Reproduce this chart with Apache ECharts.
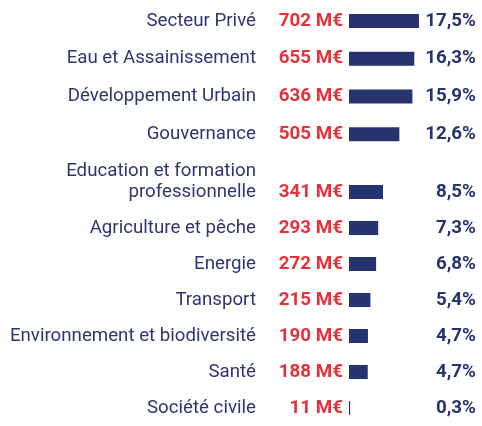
<!DOCTYPE html>
<html><head><meta charset="utf-8">
<script src="https://cdn.jsdelivr.net/npm/echarts@6/dist/echarts.min.js"></script>
<style>html,body{margin:0;padding:0;background:#fff}#c{width:482px;height:426px}</style>
</head><body><div id="c"></div>
<script>
const categories = ['Secteur Privé','Eau et Assainissement','Développement Urbain','Gouvernance','Education et formation\nprofessionnelle','Agriculture et pêche','Energie','Transport','Environnement et biodiversité','Santé','Société civile'];
const values = [702,655,636,505,341,293,272,215,190,188,11];
const percents = ['17,5%','16,3%','15,9%','12,6%','8,5%','7,3%','6,8%','5,4%','4,7%','4,7%','0,3%'];

const NAVY = '#27336F', RED = '#E8303A', TEXT = '#2E3670';
const FONT = 'Roboto';
const split = 4;
const groups = [
  {cats: categories.slice(0, split), vals: values.slice(0, split), pct: percents.slice(0, split), top: 2, height: 151},
  {cats: categories.slice(split), vals: values.slice(split), pct: percents.slice(split), top: 174, height: 260}
];
const grid = [], xAxis = [], yAxis = [], series = [];
groups.forEach((g, i) => {
  grid.push({left: 349, right: 6, top: g.top, height: g.height, containLabel: false});
  xAxis.push({type: 'value', gridIndex: i, min: 0, max: 1274, show: false});
  yAxis.push({
    type: 'category', gridIndex: i, inverse: true,
    data: g.cats,
    axisLine: {show: false}, axisTick: {show: false}, splitLine: {show: false},
    axisLabel: {
      interval: 0, margin: 93, align: 'right',
      formatter: v => v.indexOf('\n') >= 0 ? v.split('\n').map(s => '{m|' + s + '}').join('\n') + '\n{m| }' : v,
      color: TEXT, fontFamily: FONT, fontSize: 18.7,
      rich: {m: {color: TEXT, fontFamily: FONT, fontSize: 18.7, lineHeight: 21}}
    }
  });
  yAxis.push({
    type: 'category', gridIndex: i, inverse: true, position: 'right',
    data: g.pct,
    axisLine: {show: false}, axisTick: {show: false}, splitLine: {show: false},
    axisLabel: {interval: 0, margin: 0, align: 'right', color: NAVY, fontFamily: FONT, fontSize: 18.8, fontWeight: 'bold'}
  });
  series.push({
    type: 'bar', xAxisIndex: i, yAxisIndex: i * 2,
    data: g.vals, barWidth: 14,
    itemStyle: {color: NAVY},
    label: {show: true, position: 'left', distance: 6, color: RED, fontFamily: FONT, fontSize: 18.8, fontWeight: 'bold',
      formatter: p => p.value + ' M€'},
    silent: true, animation: false
  });
});
const chart = echarts.init(document.getElementById('c'), null, {renderer: 'canvas'});
chart.setOption({animation: false, grid, xAxis, yAxis, series});
</script></body></html>
